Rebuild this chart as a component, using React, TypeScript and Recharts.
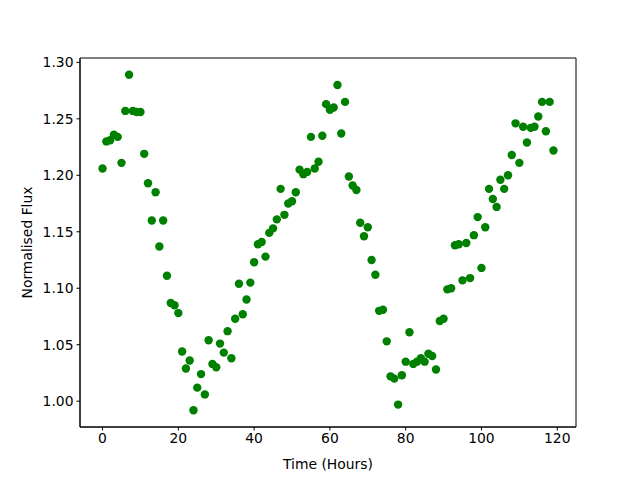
import { ScatterChart, Scatter, XAxis, YAxis, ReferenceArea } from 'recharts';

// hourly samples, t = 0..119
const hours = Array.from({ length: 120 }, (_, i) => i);

const flux = [
  1.206, 1.230, 1.231, 1.236, 1.234, 1.211, 1.257, 1.289, 1.257, 1.256,
  1.256, 1.219, 1.193, 1.160, 1.185, 1.137, 1.160, 1.111, 1.087, 1.085,
  1.078, 1.044, 1.029, 1.036, 0.992, 1.012, 1.024, 1.006, 1.054, 1.033,
  1.030, 1.051, 1.043, 1.062, 1.038, 1.073, 1.104, 1.077, 1.090, 1.105,
  1.123, 1.139, 1.141, 1.128, 1.149, 1.153, 1.161, 1.188, 1.165, 1.175,
  1.177, 1.185, 1.205, 1.201, 1.203, 1.234, 1.206, 1.212, 1.235, 1.263,
  1.258, 1.260, 1.280, 1.237, 1.265, 1.199, 1.191, 1.187, 1.158, 1.146,
  1.154, 1.125, 1.112, 1.080, 1.081, 1.053, 1.022, 1.020, 0.997, 1.023,
  1.035, 1.061, 1.033, 1.035, 1.038, 1.035, 1.042, 1.040, 1.028, 1.071,
  1.073, 1.099, 1.100, 1.138, 1.139, 1.107, 1.140, 1.109, 1.147, 1.163,
  1.118, 1.154, 1.188, 1.179, 1.172, 1.196, 1.188, 1.200, 1.218, 1.246,
  1.211, 1.243, 1.229, 1.242, 1.243, 1.252, 1.265, 1.239, 1.265, 1.222,
];

const xTicks = [0, 20, 40, 60, 80, 100, 120];
const yTicks = [1.0, 1.05, 1.1, 1.15, 1.2, 1.25, 1.3];

const points = hours.map((t, i) => ({ t, f: flux[i] }));

const X_DOMAIN: [number, number] = [-5.95, 124.95];
const Y_DOMAIN: [number, number] = [0.97715, 1.30385];

const tickStyle = { fill: '#000', fontSize: 13.9, fontFamily: 'DejaVu Sans' };

const Dot = (props: any) => (
  <circle cx={props.cx} cy={props.cy} r={4.2} fill="#008000" />
);

export default function App() {
  return (
    <div style={{ position: 'absolute', left: 0, top: 0, width: 640, height: 480, background: '#fff' }}>
      <ScatterChart width={640} height={480} margin={{ top: 58, right: 64, bottom: 0, left: 0 }}>
        <XAxis
          type="number"
          dataKey="t"
          domain={X_DOMAIN}
          ticks={xTicks}
          allowDataOverflow
          height={53}
          tickSize={3.5}
          tickMargin={3}
          axisLine={{ stroke: '#000' }}
          tickLine={{ stroke: '#000' }}
          tick={tickStyle}
          label={{ value: 'Time (Hours)', position: 'insideBottom', offset: 11, fill: '#000', fontSize: 13.9, fontFamily: 'DejaVu Sans' }}
        />
        <YAxis
          type="number"
          dataKey="f"
          domain={Y_DOMAIN}
          ticks={yTicks}
          allowDataOverflow
          width={80}
          tickSize={3.5}
          tickMargin={3}
          axisLine={{ stroke: '#000' }}
          tickLine={{ stroke: '#000' }}
          tick={tickStyle}
          tickFormatter={(v: number) => v.toFixed(2)}
          label={{ value: 'Normalised Flux', angle: -90, position: 'insideLeft', offset: 27, style: { textAnchor: 'middle' }, fill: '#000', fontSize: 13.9, fontFamily: 'DejaVu Sans' }}
        />
        <ReferenceArea x1={X_DOMAIN[0]} x2={X_DOMAIN[1]} y1={Y_DOMAIN[0]} y2={Y_DOMAIN[1]} fill="none" stroke="#000" strokeWidth={1} />
        <Scatter data={points} shape={Dot} isAnimationActive={false} />
      </ScatterChart>
    </div>
  );
}
